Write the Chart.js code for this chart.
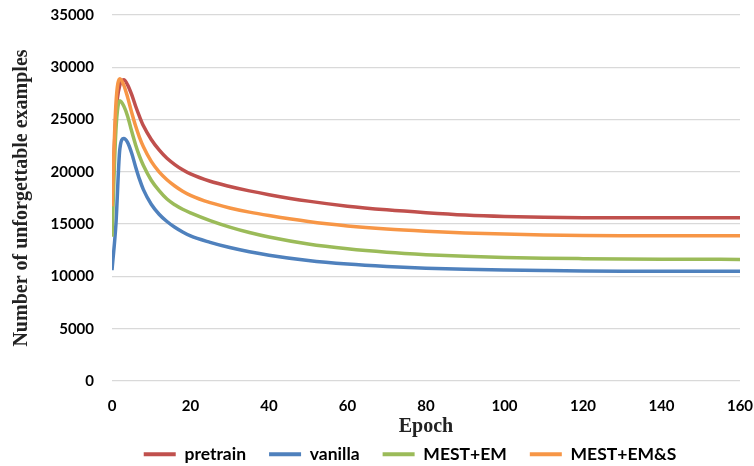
<!DOCTYPE html>
<html>
<head>
<meta charset="utf-8">
<script src="https://cdn.jsdelivr.net/npm/chart.js@4/dist/chart.umd.min.js"></script>
<style>
  html, body { margin: 0; padding: 0; background: #ffffff; }
  #wrap { width: 754px; height: 466px; }
</style>
</head>
<body>
<div id="wrap"><canvas id="c" width="754" height="466"></canvas></div>
<script>
// ---- data ----
const epochs   = [0, 1, 2, 3, 4, 5, 6, 7, 8, 10, 12, 14, 16, 18, 20, 25, 30, 35, 40, 50, 60, 70, 80, 90, 100, 110, 120, 130, 140, 150, 160];
const pretrain = [16500, 25500, 28300, 28800, 28300, 27400, 26300, 25300, 24400, 23100, 22100, 21300, 20700, 20200, 19800, 19100, 18600, 18180, 17820, 17200, 16720, 16370, 16100, 15880, 15740, 15660, 15620, 15610, 15610, 15610, 15610];
const vanilla  = [10600, 15000, 22200, 23200, 22800, 21800, 20500, 19300, 18300, 16900, 15950, 15250, 14700, 14250, 13870, 13260, 12760, 12360, 12030, 11520, 11180, 10950, 10790, 10680, 10610, 10560, 10520, 10500, 10495, 10490, 10490];
const mestEM   = [13800, 24000, 26800, 26300, 25300, 23900, 22600, 21500, 20600, 19200, 18200, 17400, 16850, 16420, 16080, 15340, 14720, 14200, 13770, 13100, 12640, 12310, 12080, 11920, 11810, 11740, 11700, 11670, 11650, 11640, 11630];
const mestEMS  = [16700, 26500, 28900, 28300, 27100, 25700, 24400, 23300, 22400, 21000, 20000, 19250, 18650, 18150, 17750, 17050, 16550, 16150, 15820, 15250, 14830, 14530, 14320, 14160, 14050, 13970, 13920, 13900, 13890, 13890, 13890];
const seriesNames = ['pretrain', 'vanilla', 'MEST+EM', 'MEST+EM&S'];
const yTicks = [0, 5000, 10000, 15000, 20000, 25000, 30000, 35000];
const xTicks = [0, 20, 40, 60, 80, 100, 120, 140, 160];
const xTitle = 'Epoch';
const yTitle = 'Number of unforgettable examples';

const colors = ['#C0504D', '#4F81BD', '#9BBB59', '#F79646'];
const allSeries = [pretrain, vanilla, mestEM, mestEMS];

const datasets = allSeries.map((vals, i) => ({
  label: seriesNames[i],
  data: epochs.map((e, k) => ({ x: e, y: vals[k] })),
  borderColor: colors[i],
  backgroundColor: colors[i],
  borderWidth: 3.5,
  pointRadius: 0,
  pointHoverRadius: 0,
  cubicInterpolationMode: 'monotone',
  fill: false,
  order: 4 - i
}));

const legendShift = {
  id: 'legendShift',
  afterLayout(chart) {
    const lg = chart.legend;
    if (!lg) return;
    lg.left = 66;
    lg.right = 754;
    lg.top = 422.5;
  }
};

new Chart(document.getElementById('c'), {
  type: 'line',
  data: { datasets },
  plugins: [legendShift],
  options: {
    responsive: false,
    animation: false,
    devicePixelRatio: 1,
    layout: { padding: { left: 0, right: 14, top: 15, bottom: 0 } },
    plugins: {
      tooltip: { enabled: false },
      legend: {
        position: 'bottom',
        maxHeight: 25,
        labels: {
          boxWidth: 32,
          boxHeight: 4,
          padding: 23,
          color: '#000000',
          font: { family: 'Lato', weight: 'bold', size: 17.5 },
          sort: (a, b) => a.datasetIndex - b.datasetIndex,
          generateLabels: (chart) =>
            Chart.defaults.plugins.legend.labels.generateLabels(chart).map(l => ({ ...l, lineWidth: 0 }))
        }
      }
    },
    scales: {
      x: {
        type: 'linear',
        min: 0,
        max: 160,
        afterBuildTicks: (s) => { s.ticks = xTicks.map(v => ({ value: v })); },
        afterFit: (s) => { s.height = 60; },
        grid: { display: true, color: 'rgba(0,0,0,0)', tickColor: 'rgba(0,0,0,0)', drawTicks: true, tickLength: 16 },
        border: { display: false },
        ticks: {
          padding: 0,
          maxRotation: 0,
          color: '#000000',
          font: { family: 'Lato', weight: 'bold', size: 15 }
        },
        title: {
          display: true,
          text: xTitle,
          color: '#222222',
          padding: { top: 0, bottom: 2 },
          font: { family: 'Liberation Serif', weight: 'bold', size: 20 }
        }
      },
      y: {
        type: 'linear',
        min: 0,
        max: 35000,
        afterBuildTicks: (s) => { s.ticks = yTicks.map(v => ({ value: v })); },
        afterFit: (s) => { s.width = 112; },
        grid: { color: '#d9d9d9', lineWidth: 1.3, tickColor: 'rgba(0,0,0,0)', drawTicks: true, tickLength: 18 },
        border: { display: false },
        ticks: {
          padding: 0,
          color: '#000000',
          font: { family: 'Lato', weight: 'bold', size: 15 },
          callback: (v) => String(v)
        },
        title: {
          display: true,
          text: yTitle,
          color: '#222222',
          padding: { top: 10, bottom: 0 },
          font: { family: 'Liberation Serif', weight: 'bold', size: 20 }
        }
      }
    }
  }
});
</script>
</body>
</html>
